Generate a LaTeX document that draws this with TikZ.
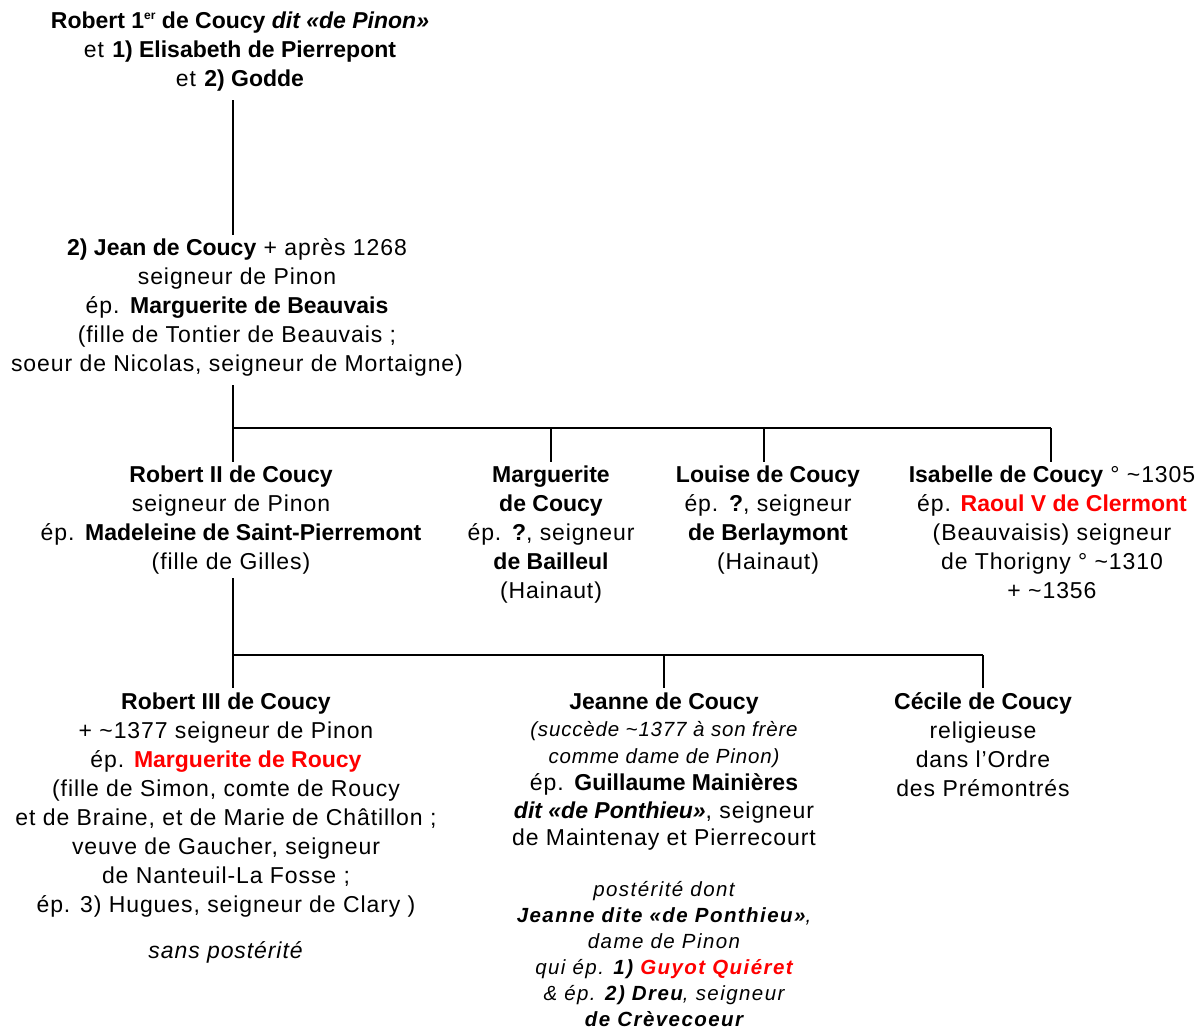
\documentclass[tikz,border=0pt]{standalone}
\usepackage{fontspec}
\setmainfont{Liberation Sans}[UprightFeatures={LetterSpace=4}, ItalicFeatures={LetterSpace=4}]
\newfontfamily\bottomfont{Liberation Sans}[LetterSpace=7]
\usepackage{xcolor}
\definecolor{redname}{RGB}{255,0,0}
\newcommand{\rn}[1]{\textcolor{redname}{#1}}
\newcommand{\tl}{\textasciitilde}
\newcommand{\smallit}{\fontsize{20.5}{27.2}\selectfont\itshape}
\newcommand{\ordsup}[1]{\raisebox{0.75ex}{\fontsize{12}{12}\selectfont #1}}
\begin{document}
\begin{tikzpicture}[x=1pt,y=-1pt,
  person/.style={align=center, inner sep=0pt, anchor=north, font=\fontsize{23}{29}\selectfont},
  link/.style={line width=2.7pt}]
\useasboundingbox (0,0) rectangle (1203,1029);

% generation 1
\node[person] (n1) at (240,7.7) {\strut\textbf{Robert 1\ordsup{er} de Coucy \textit{dit «de Pinon»}}\\
 et \textbf{1) Elisabeth de Pierrepont}\\
 et \textbf{2) Godde}};

% generation 2
\node[person] (n2) at (237,234.7) {\strut\textbf{2) Jean de Coucy} + après 1268\\
 seigneur de Pinon\\
 ép. \textbf{Marguerite de Beauvais}\\
 (fille de Tontier de Beauvais ;\\
 soeur de Nicolas, seigneur de Mortaigne)};

% generation 3
\node[person] (n3) at (231,461.7) {\strut\textbf{Robert II de Coucy}\\
 seigneur de Pinon\\
 ép. \textbf{Madeleine de Saint-Pierremont}\\
 (fille de Gilles)};
\node[person] (n4) at (551,461.7) {\strut\textbf{Marguerite}\\
 \textbf{de Coucy}\\
 ép. \textbf{?}, seigneur\\
 \textbf{de Bailleul}\\
 (Hainaut)};
\node[person] (n5) at (768,461.7) {\strut\textbf{Louise de Coucy}\\
 ép. \textbf{?}, seigneur\\
 \textbf{de Berlaymont}\\
 (Hainaut)};
\node[person] (n6) at (1052,461.7) {\strut\textbf{Isabelle de Coucy} ° \tl1305\\
 ép. \rn{\textbf{Raoul V de Clermont}}\\
 (Beauvaisis) seigneur\\
 de Thorigny ° \tl1310\\
 + \tl1356};

% generation 4
\node[person] (n7) at (226,688.7) {\strut\textbf{Robert III de Coucy}\\
 + \tl1377 seigneur de Pinon\\
 ép. \rn{\textbf{Marguerite de Roucy}}\\
 (fille de Simon, comte de Roucy\\
 et de Braine, et de Marie de Châtillon ;\\
 veuve de Gaucher, seigneur\\
 de Nanteuil-La Fosse ;\\
 ép. 3) Hugues, seigneur de Clary )};
\node[person] (n7b) at (226,937.7) {\strut\textit{sans postérité}};
\node[person, font=\fontsize{23}{27.2}\selectfont] (n8) at (664,690) {\strut\textbf{Jeanne de Coucy}\\
 {\smallit (succède \tl1377 à son frère}\\
 {\smallit comme dame de Pinon)}\\
 ép. \textbf{Guillaume Mainières}\\
 \textbf{\textit{dit «de Ponthieu»}}, seigneur\\
 de Maintenay et Pierrecourt};
\node[person, font=\bottomfont\fontsize{20.5}{26}\selectfont\itshape] (n9) at (664,877.8) {\strut postérité dont\\
 \textbf{Jeanne dite «de Ponthieu»},\\
 dame de Pinon\\
 qui ép. \textbf{1)} \rn{\textbf{Guyot Quiéret}}\\
 \& ép. \textbf{2) Dreu}, seigneur\\
 \textbf{de Crèvecoeur}};
\node[person] (n10) at (983,688.7) {\strut\textbf{Cécile de Coucy}\\
 religieuse\\
 dans l’Ordre\\
 des Prémontrés};

% connectors
\coordinate (a1) at (233,100);
\coordinate (a2) at (233,235);
\draw[link] (a1) -- (a2);

\coordinate (b1) at (233,385);
\coordinate (b2) at (233,428);
\coordinate (b3) at (1051,428);
\draw[link] (b1) -- (b2) -- (b3);
\coordinate (c1) at (233,462);
\coordinate (c2) at (551,428);
\coordinate (c3) at (551,462);
\coordinate (c4) at (764,428);
\coordinate (c5) at (764,462);
\coordinate (c6) at (1051,462);
\draw[link] (b2) -- (c1);
\draw[link] (c2) -- (c3);
\draw[link] (c4) -- (c5);
\draw[link] (b3) -- (c6);

\coordinate (d1) at (233,578);
\coordinate (d2) at (233,655);
\coordinate (d3) at (983,655);
\draw[link] (d1) -- (d2) -- (d3);
\coordinate (e1) at (233,688);
\coordinate (e2) at (664,655);
\coordinate (e3) at (664,688);
\coordinate (e4) at (983,688);
\draw[link] (d2) -- (e1);
\draw[link] (e2) -- (e3);
\draw[link] (d3) -- (e4);
\end{tikzpicture}
\end{document}
